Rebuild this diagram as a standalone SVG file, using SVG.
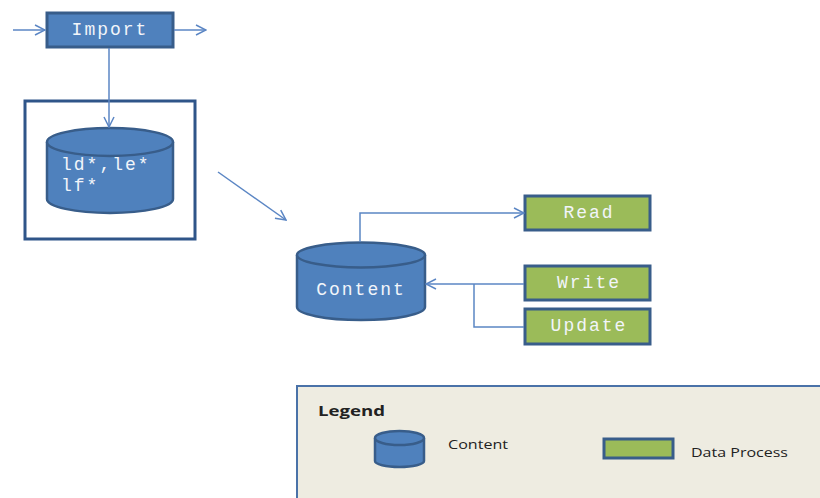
<svg xmlns="http://www.w3.org/2000/svg" width="820" height="498" viewBox="0 0 820 498">
  <style>
    .proc { fill: #4F81BD; stroke: #385D8A; stroke-width: 3; }
    .data { fill: #9BBB59; stroke: #385D8A; stroke-width: 3; }
    .cyl { fill: #4F81BD; stroke: #385D8A; stroke-width: 2.5; }
    .mono { font-family: "Liberation Mono", "Courier New", monospace; font-size: 18px; fill: #F2F5FA; letter-spacing: 2px; }
    .sans { font-family: "Open Sans", "Liberation Sans", sans-serif; fill: #222; }
    .edge { fill: none; stroke: #5B86C4; stroke-width: 1.5; }
  </style>
  <defs>
    <marker id="arrow" viewBox="0 0 12 12" refX="11" refY="6" markerWidth="12" markerHeight="12" markerUnits="userSpaceOnUse" orient="auto">
      <path d="M1,1 L11,6 L1,11" fill="none" stroke="#5B86C4" stroke-width="1.5"/>
    </marker>
  </defs>

  <rect width="820" height="498" fill="#FFFFFF"/>

  <!-- Import process -->
  <g id="import">
    <rect class="proc" x="47" y="13" width="126" height="34"/>
    <text class="mono" x="110" y="35" text-anchor="middle">Import</text>
  </g>

  <!-- staging store frame -->
  <g id="staging">
    <rect x="25" y="101" width="170" height="138" fill="#FFFFFF" stroke="#2F5589" stroke-width="3"/>
    <path class="cyl" d="M47,142 L47,199 A63,14 0 0 0 173,199 L173,142"/>
    <ellipse class="cyl" cx="110" cy="142" rx="63" ry="14"/>
    <text class="mono" x="61" y="170" font-size="17">ld*,le*</text>
    <text class="mono" x="61" y="191" font-size="17">lf*</text>
  </g>

  <!-- Content store -->
  <g id="content">
    <path class="cyl" d="M297,255 L297,307 A64,13 0 0 0 425,307 L425,255"/>
    <ellipse class="cyl" cx="361" cy="255" rx="64" ry="12.5"/>
    <text class="mono" x="361" y="295" text-anchor="middle">Content</text>
  </g>

  <!-- data processes -->
  <g id="read">
    <rect class="data" x="525" y="196" width="125" height="34"/>
    <text class="mono" x="589" y="218" text-anchor="middle">Read</text>
  </g>
  <g id="write">
    <rect class="data" x="525" y="266" width="125" height="34"/>
    <text class="mono" x="589" y="288" text-anchor="middle">Write</text>
  </g>
  <g id="update">
    <rect class="data" x="525" y="309" width="125" height="35"/>
    <text class="mono" x="589" y="331" text-anchor="middle">Update</text>
  </g>

  <!-- legend -->
  <g id="legend">
    <rect x="297" y="386" width="540" height="130" fill="#EEECE1" stroke="#4A72A8" stroke-width="2"/>
    <text class="sans" x="318" y="416" font-size="15" font-weight="bold" textLength="67" lengthAdjust="spacingAndGlyphs">Legend</text>
    <path class="cyl" d="M375,438 L375,461 A24.5,6 0 0 0 424,461 L424,438" stroke-width="2"/>
    <ellipse class="cyl" cx="399.5" cy="438" rx="24.5" ry="7" stroke-width="2"/>
    <text class="sans" x="448" y="449" font-size="13.5" textLength="60" lengthAdjust="spacingAndGlyphs">Content</text>
    <rect class="data" x="604" y="439" width="69" height="19" stroke-width="2.5"/>
    <text class="sans" x="691" y="457" font-size="13.5" textLength="97" lengthAdjust="spacingAndGlyphs">Data Process</text>
  </g>

  <!-- connectors, drawn over the frames -->
  <g id="connectors">
    <line class="edge" x1="13" y1="30" x2="45" y2="30" marker-end="url(#arrow)"/>
    <line class="edge" x1="174" y1="30" x2="206" y2="30" marker-end="url(#arrow)"/>
    <line class="edge" x1="109" y1="48" x2="109" y2="127" marker-end="url(#arrow)"/>
    <line class="edge" x1="218" y1="172" x2="286" y2="220" marker-end="url(#arrow)"/>
    <polyline class="edge" points="360,242 360,213 524,213" marker-end="url(#arrow)"/>
    <line class="edge" x1="524" y1="284" x2="426" y2="284" marker-end="url(#arrow)"/>
    <polyline class="edge" points="524,327 474,327 474,284"/>
  </g>
</svg>
